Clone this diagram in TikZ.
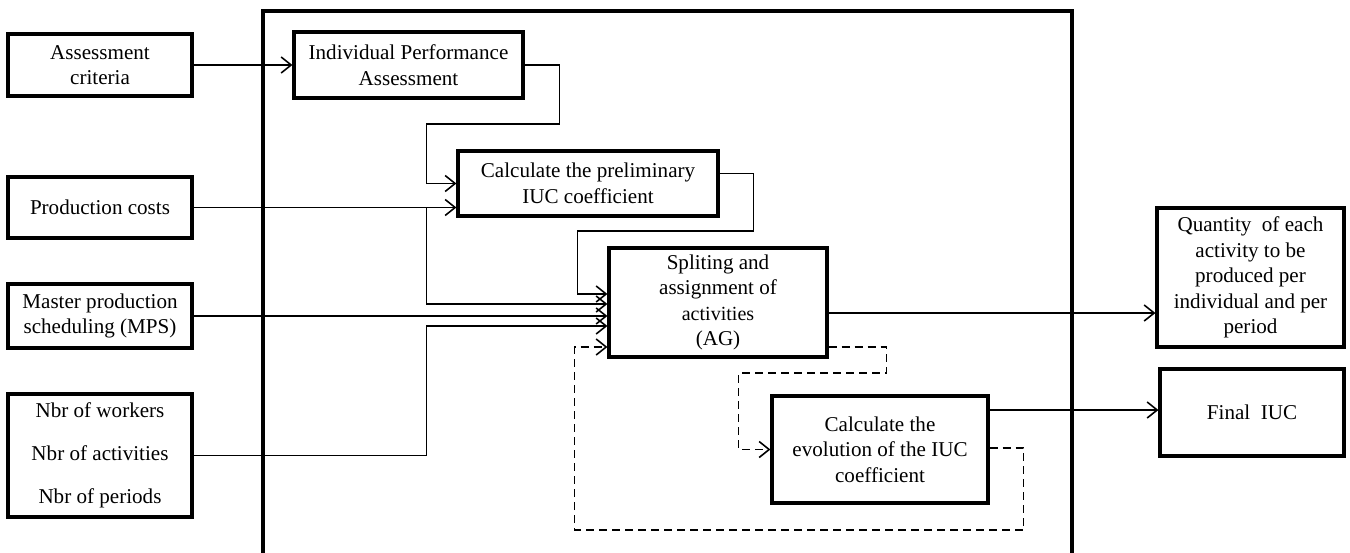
\documentclass[tikz,border=0pt]{standalone}
\usepackage{fontspec}
\setmainfont{Liberation Serif}
\usepackage{tikz}
\usetikzlibrary{arrows.meta,positioning,calc}

\begin{document}
\begin{tikzpicture}[
    x=0.2mm, y=-0.2mm,
    box/.style={draw, line width=1.8pt, align=center, font=\fontsize{12}{14.5}\selectfont, inner sep=2pt},
    arr/.style={-{Straight Barb[length=2mm,width=3.2mm]}, line width=0.9pt},
    darr/.style={-{Straight Barb[length=2mm,width=3.2mm]}, line width=0.9pt, dash pattern=on 1.6mm off 1mm},
    border/.style={line width=2.3pt}
]
\useasboundingbox (0,0) rectangle (1350,552);

% outer frame (open at the bottom)
\draw[border] (263,570) -- (263,11) -- (1072,11) -- (1072,570);

% inputs
\node[box, minimum width=36.8mm, minimum height=12.4mm] (AC) at (100,65) {Assessment\\criteria};
\node[box, minimum width=36.8mm, minimum height=12.2mm] (PC) at (100,207.5) {Production costs};
\node[box, minimum width=36.8mm, minimum height=12.8mm] (MPS) at (100,316) {Master production\\scheduling (MPS)};
\node[box, minimum width=36.8mm, minimum height=24.6mm] (NB) at (100,455.5) {Nbr of workers\\[10pt]Nbr of activities\\[10pt]Nbr of periods};

% processes
\node[box, minimum width=45.8mm, minimum height=13.2mm] (IPA) at (408.5,65) {Individual Performance\\Assessment};
\node[box, minimum width=52mm, minimum height=13mm] (PRE) at (588,183.5) {Calculate the preliminary\\IUC coefficient};
\node[box, minimum width=43.6mm, minimum height=21.8mm] (AG) at (718,302.5) {Spliting and\\assignment of\\{\fontsize{11.4}{14}\selectfont activities}\\(AG)};
\node[box, minimum width=43.2mm, minimum height=21.4mm] (EVO) at (880,449.5) {Calculate the\\evolution of the IUC\\coefficient};

% outputs
\node[box, minimum width=37.4mm, minimum height=27.8mm] (Q) at (1250.5,277.5) {Quantity~~of each\\activity to be\\produced per\\individual and per\\period};
\node[box, minimum width=36.8mm, minimum height=17.4mm] (F) at (1252,412.5) {Final~~IUC};

% helper points
\path (PC.east) ++(233,0) coordinate (pcb);
\coordinate (pout) at ([yshift=2mm]PRE.east);
\coordinate (aout) at ([yshift=-2.1mm]AG.east);
\coordinate (aloop) at ([yshift=-8.9mm]AG.east);
\coordinate (eout) at ([yshift=7.9mm]EVO.east);
\coordinate (eloop) at ([yshift=0.3mm]EVO.east);

% connectors
\draw[arr] (AC.east) -- (AC.east -| IPA.west);
\draw[arr] (IPA.east) -- ++(35,0) -- ++(0,59) -- ++(-133,0) |- (PRE.west);
\draw[arr] (PC.east) -- (PC.east -| PRE.west);
\draw[arr] (pcb) |- ([yshift=-0.3mm]AG.west);
\draw[arr] (MPS.east) -- (MPS.east -| AG.west);
\draw[arr] (NB.east) -- ++(233,0) |- ([yshift=-4.7mm]AG.west);
\draw[arr] (pout) -- ++(34,0) -- ++(0,57.5) -- ++(-176,0) |- ([yshift=1.7mm]AG.west);
\draw[arr] (aout) -- (aout -| Q.west);
\draw[arr] (eout) -- (eout -| F.west);

% feedback loop
\draw[darr] (aloop) -- ++(58,0) -- ++(0,26) -- ++(-148,0) |- (EVO.west);
\draw[darr] (eloop) -- ++(34,0) -- ++(0,82) -- ++(-449,0) |- ([yshift=-8.9mm]AG.west);
\end{tikzpicture}
\end{document}
